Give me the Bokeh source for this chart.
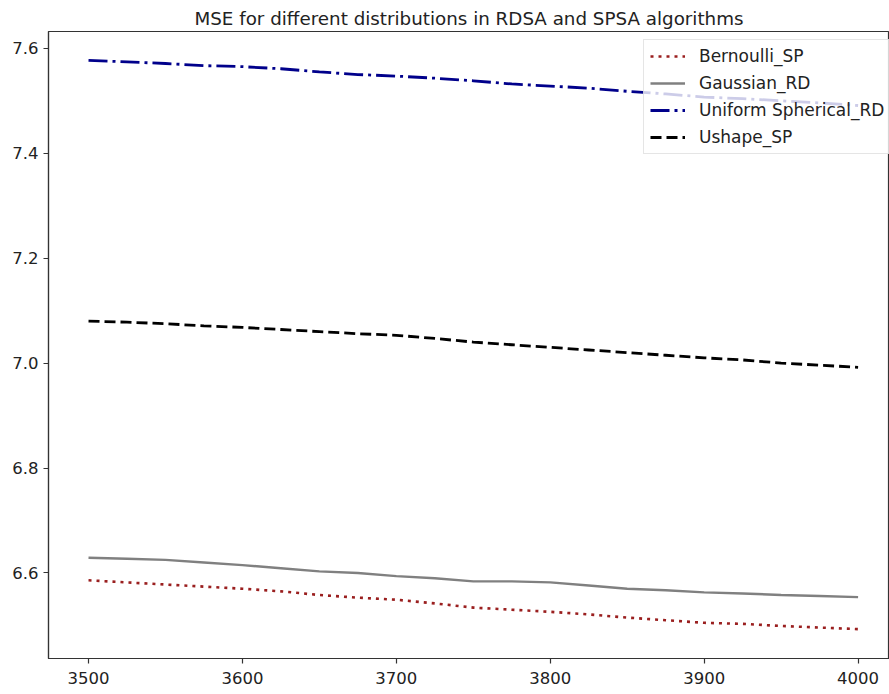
from bokeh.plotting import figure
from bokeh.models import Range1d, FixedTicker, PrintfTickFormatter, Legend, LegendItem
from bokeh.embed import file_html
from bokeh.resources import INLINE

x_vals = [3500, 3525, 3550, 3575, 3600, 3625, 3650, 3675, 3700, 3725, 3750,
          3775, 3800, 3825, 3850, 3875, 3900, 3925, 3950, 3975, 4000]
bernoulli_sp = [6.586, 6.582, 6.578, 6.574, 6.570, 6.565, 6.558, 6.553, 6.549, 6.542, 6.534,
                6.530, 6.526, 6.521, 6.515, 6.510, 6.505, 6.503, 6.499, 6.496, 6.493]
gaussian_rd = [6.629, 6.627, 6.625, 6.620, 6.615, 6.609, 6.603, 6.600, 6.594, 6.590, 6.584,
               6.584, 6.582, 6.576, 6.570, 6.567, 6.563, 6.561, 6.558, 6.556, 6.554]
uniform_spherical_rd = [7.577, 7.574, 7.571, 7.567, 7.565, 7.561, 7.555, 7.550, 7.547, 7.543, 7.538,
                        7.532, 7.528, 7.524, 7.518, 7.513, 7.507, 7.504, 7.500, 7.496, 7.491]
ushape_sp = [7.080, 7.078, 7.075, 7.071, 7.068, 7.064, 7.060, 7.056, 7.053, 7.047, 7.040,
             7.035, 7.030, 7.025, 7.020, 7.015, 7.010, 7.006, 7.000, 6.996, 6.992]
series_names = ["Bernoulli_SP", "Gaussian_RD", "Uniform Spherical_RD", "Ushape_SP"]
x_ticks = [3500, 3600, 3700, 3800, 3900, 4000]
y_ticks = [6.6, 6.8, 7.0, 7.2, 7.4, 7.6]

FONT = "DejaVu Sans"

p = figure(width=889, height=694, output_backend="svg", toolbar_location=None,
           x_range=Range1d(3474.0, 4020.4), y_range=Range1d(6.437, 7.632),
           title="MSE for different distributions in RDSA and SPSA algorithms",
           min_border_left=48, min_border_right=0, min_border_bottom=36, min_border_top=31)

p.title.align = "center"
p.title.text_font = FONT
p.title.text_font_size = "18.3px"
p.title.text_font_style = "normal"
p.title.text_color = "#222222"
p.title.standoff = 5

p.xgrid.visible = False
p.ygrid.visible = False
p.outline_line_color = "#333333"
p.outline_line_width = 1.2

for ax in (p.xaxis[0], p.yaxis[0]):
    ax.axis_line_color = "#333333"
    ax.axis_line_width = 1.2
    ax.major_tick_line_color = "#333333"
    ax.major_tick_line_width = 1.2
    ax.major_tick_out = 5
    ax.major_tick_in = 0
    ax.minor_tick_line_color = None
    ax.major_label_text_font = FONT
    ax.major_label_text_font_size = "16.5px"
    ax.major_label_text_color = "#222222"
p.yaxis[0].major_label_standoff = 5
p.xaxis[0].major_label_standoff = 8

p.xaxis.ticker = FixedTicker(ticks=x_ticks)
p.yaxis.ticker = FixedTicker(ticks=y_ticks)
p.yaxis.formatter = PrintfTickFormatter(format="%.1f")

r1 = p.line(x_vals, bernoulli_sp, line_color="#9a1f1f", line_width=2.6, line_dash="3 5")
r2 = p.line(x_vals, gaussian_rd, line_color="grey", line_width=2.4)
r3 = p.line(x_vals, uniform_spherical_rd, line_color="darkblue", line_width=2.8, line_dash="19 5 3 5")
r4 = p.line(x_vals, ushape_sp, line_color="black", line_width=2.8, line_dash="11 5")

legend = Legend(items=[LegendItem(label=series_names[0], renderers=[r1]),
                       LegendItem(label=series_names[1], renderers=[r2]),
                       LegendItem(label=series_names[2], renderers=[r3]),
                       LegendItem(label=series_names[3], renderers=[r4])],
                location=(595, 504))
legend.margin = 0
legend.padding = 6
legend.spacing = 7
legend.glyph_width = 35
legend.glyph_height = 20
legend.label_height = 20
legend.label_standoff = 14
legend.label_text_font = FONT
legend.label_text_font_size = "17px"
legend.label_text_color = "#222222"
legend.border_line_color = "#cccccc"
legend.border_line_width = 1
legend.background_fill_color = "white"
legend.background_fill_alpha = 0.8
p.add_layout(legend)

open("out.html", "w").write(file_html(p, INLINE))
